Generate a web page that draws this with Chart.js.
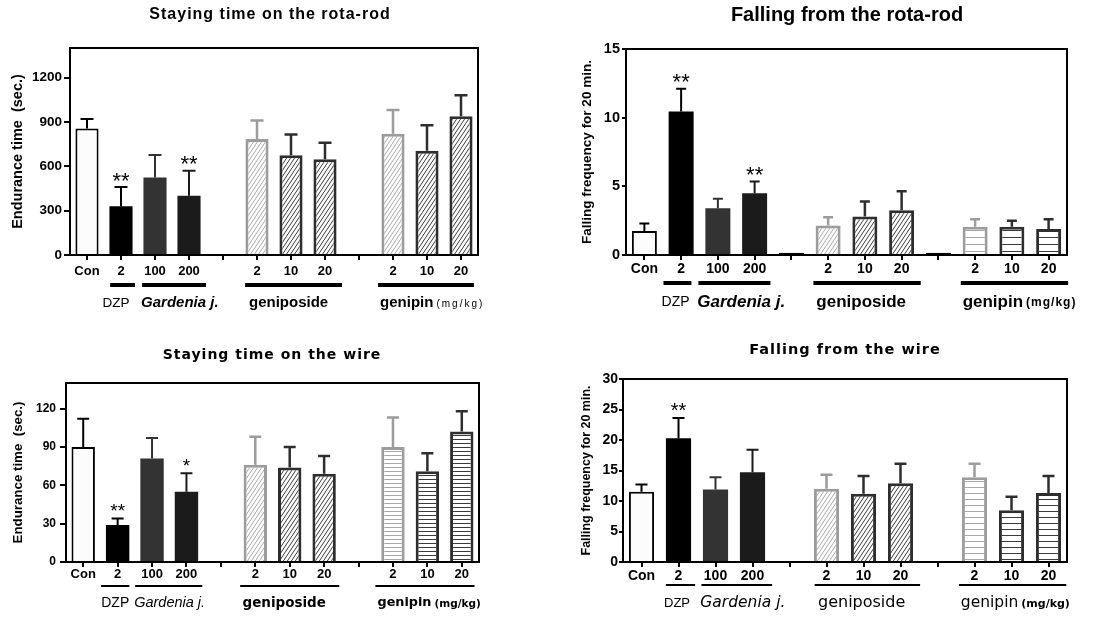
<!DOCTYPE html>
<html>
<head>
<meta charset="utf-8">
<script src="https://cdn.jsdelivr.net/npm/chart.js@4.4.1/dist/chart.umd.min.js"></script>
<style>
  body { margin: 0; background: #fff; width: 1116px; height: 617px; position: relative; overflow: hidden; }
  canvas { position: absolute; }
</style>
</head>
<body>
<canvas id="wireTimeChart" width="558" height="309" style="left:0;top:308px"></canvas>
<canvas id="wireFallChart" width="558" height="309" style="left:558px;top:308px"></canvas>
<canvas id="rotaTimeChart" width="558" height="318" style="left:0;top:0"></canvas>
<canvas id="rotaFallChart" width="558" height="318" style="left:558px;top:0"></canvas>
<script>
// x categories (empty ones are the gaps between groups)
const doseLabels = ['Con', '2', '100', '200', '', '2', '10', '20', '', '2', '10', '20'];

// staying time on the rota-rod (sec.)
const rotaTime    = [855, 330, 525, 400, null, 785, 675, 648, null, 820, 705, 938];
const rotaTimeSem = [65, 130, 152, 170, null, 125, 140, 112, null, 160, 172, 143];
const rotaTimeSig = ['', '**', '', '**', '', '', '', '', '', '', '', ''];
const rotaTimeAxis = [1400, 300]; // max, step

// falling from the rota-rod (per 20 min)
const rotaFall    = [1.75, 10.45, 3.4, 4.5, 0.15, 2.15, 2.8, 3.25, 0.15, 2.05, 2.05, 1.9];
const rotaFallSem = [0.55, 1.65, 0.7, 0.85, 0, 0.6, 1.1, 1.4, 0, 0.55, 0.45, 0.7];
const rotaFallSig = ['', '**', '', '**', '', '', '', '', '', '', '', ''];
const rotaFallAxis = [15, 5];

// staying time on the wire (sec.)
const wireTime    = [90, 29, 81, 55, null, 76, 74, 69, null, 90, 71, 102];
const wireTimeSem = [22, 5, 16, 14.5, null, 22, 16, 14, null, 23, 14, 16];
const wireTimeSig = ['', '**', '', '*', '', '', '', '', '', '', '', ''];
const wireTimeAxis = [140, 30];

// falling from the wire (per 20 min)
const wireFall    = [11.5, 20.3, 11.9, 14.7, null, 12, 11.2, 12.9, null, 13.9, 8.5, 11.3];
const wireFallSem = [1.2, 3.3, 2.0, 3.7, null, 2.3, 2.9, 3.2, null, 2.2, 2.2, 2.8];
const wireFallSig = ['', '**', '', '', '', '', '', '', '', '', '', ''];
const wireFallAxis = [30, 5];

const LIB = '"Liberation Sans", Arial, sans-serif';
const DJV = '"DejaVu Sans", Verdana, sans-serif';

// hatch fill for the extract groups
function hatch(color, kind, gap) {
  const c = document.createElement('canvas');
  const w = kind === 'diag' ? 4 : gap, h = kind === 'diag' ? 6 : gap;
  c.width = w; c.height = h;
  const g = c.getContext('2d');
  g.fillStyle = '#fff';
  g.fillRect(0, 0, w, h);
  g.strokeStyle = color;
  g.lineWidth = 1;
  g.beginPath();
  if (kind === 'diag') {
    for (let k = -1; k <= 1; k++) {
      g.moveTo(k * w, h);
      g.lineTo(k * w + w, 0);
    }
  } else {
    g.moveTo(0, h - 0.5); g.lineTo(w, h - 0.5);
  }
  g.stroke();
  return g.createPattern(c, 'repeat');
}

function panel(id, p) {
  const el = document.getElementById(id);
  const W = el.width, H = el.height;
  const light = '#9c9c9c', dark = '#2e2e2e';
  const fill = ['#fcfcfc', '#000', '#333', '#1b1b1b', '#000',
    hatch('#a8a8a8', 'diag'), hatch('#3a3a3a', 'diag'), hatch('#3a3a3a', 'diag'), '#000',
    hatch('#a8a8a8', p.genipin, p.gap), hatch('#3a3a3a', p.genipin, p.gap), hatch('#3a3a3a', p.genipin, p.gap)];
  const edge = ['#000', '#000', '#333', '#1b1b1b', '#000', light, dark, dark, '#000', light, dark, dark];
  const edgeW = [2, 0, 0, 0, 0, 3, 3, 3, 0, 3, 3, 3];

  const deco = {
    id: 'deco',
    afterDatasetsDraw(chart) {
      const { ctx, chartArea: a, scales: { x, y } } = chart;
      const bars = chart.getDatasetMeta(0).data;
      ctx.save();
      // error bars (upper only) + significance stars
      p.values.forEach((v, i) => {
        const e = p.sem[i];
        if (v == null || !e) return;
        const bx = bars[i].x, y0 = y.getPixelForValue(v), y1 = y.getPixelForValue(v + e);
        ctx.strokeStyle = edge[i];
        ctx.lineWidth = edgeW[i] === 3 ? 2.5 : 2;
        ctx.beginPath();
        ctx.moveTo(bx, y0); ctx.lineTo(bx, y1);
        ctx.moveTo(bx - p.cap, y1); ctx.lineTo(bx + p.cap, y1);
        ctx.stroke();
        if (p.sig[i]) {
          ctx.fillStyle = '#000';
          ctx.font = p.starSize + 'px ' + LIB;
          ctx.textAlign = 'center';
          ctx.textBaseline = 'alphabetic';
          ctx.fillText(p.sig[i], bx, y1 - 12 + 0.57 * p.starSize);
        }
      });

      // box
      ctx.strokeStyle = '#000';
      ctx.lineWidth = 2;
      ctx.strokeRect(a.left, a.top, a.right - a.left, a.bottom - a.top);

      // title
      ctx.fillStyle = '#000';
      ctx.textAlign = 'center';
      ctx.textBaseline = 'middle';
      ctx.font = p.titleFont;
      ctx.letterSpacing = p.titleLs;
      ctx.fillText(p.title, p.titleX, p.titleY);
      ctx.letterSpacing = '0px';

      // y title
      ctx.save();
      ctx.translate(p.yTitleX, (a.top + a.bottom) / 2);
      ctx.rotate(-Math.PI / 2);
      ctx.font = p.yTitleFont;
      ctx.fillText(p.yTitle, 0, 0, p.yTitleLen);
      ctx.restore();

      // group bars + names under the axis
      const x0 = x.getPixelForValue(0), step = x.getPixelForValue(1) - x0;
      const at = t => x0 + t * step;
      ctx.lineWidth = p.groupLine;
      p.spans.forEach(([s, e]) => {
        ctx.beginPath();
        ctx.moveTo(at(s), p.groupY);
        ctx.lineTo(at(e), p.groupY);
        ctx.stroke();
      });
      p.names.forEach(n => {
        ctx.font = n.font;
        ctx.textAlign = n.align;
        ctx.fillText(n.text, at(n.pos), p.labelY);
        if (n.unit) {
          const w = ctx.measureText(n.text).width;
          ctx.font = n.unitFont;
          ctx.letterSpacing = n.unitLs;
          ctx.textAlign = 'left';
          ctx.fillText(n.unit, at(n.pos) + w + 3, p.labelY + 1);
          ctx.letterSpacing = '0px';
        }
      });
      ctx.restore();
    }
  };

  new Chart(el, {
    type: 'bar',
    data: {
      labels: doseLabels,
      datasets: [{
        data: p.values,
        backgroundColor: fill,
        borderColor: edge,
        borderWidth: edgeW,
        barPercentage: 0.68,
        categoryPercentage: 1
      }]
    },
    options: {
      responsive: false,
      animation: false,
      devicePixelRatio: 1,
      layout: { padding: { left: 0, right: W - p.area[1], top: p.area[2], bottom: 0 } },
      plugins: { legend: { display: false }, tooltip: { enabled: false }, title: { display: false } },
      scales: {
        x: {
          grid: { offset: false, drawOnChartArea: false, color: '#000', lineWidth: 2, tickLength: 5 },
          border: { color: '#000', width: 2 },
          ticks: { color: '#000', font: { family: p.xFamily, size: p.xSize, weight: 'bold' }, padding: p.xPad, maxRotation: 0, autoSkip: false },
          afterFit: s => { s.height = H - p.area[3]; }
        },
        y: {
          min: 0,
          max: p.axis[0],
          grid: { drawOnChartArea: false, color: '#000', lineWidth: 2, tickLength: p.yTick },
          border: { color: '#000', width: 2 },
          ticks: {
            stepSize: p.axis[1], includeBounds: false, color: '#000',
            font: { family: LIB, size: p.ySize, weight: 'bold' }, padding: p.yPad,
            callback: v => String(v)
          },
          afterFit: s => { s.width = p.area[0]; }
        }
      }
    },
    plugins: [deco]
  });
}

panel('rotaTimeChart', {
  values: rotaTime, sem: rotaTimeSem, sig: rotaTimeSig, axis: rotaTimeAxis,
  area: [70, 478, 48, 255], genipin: 'diag', gap: 4, cap: 6.5, starSize: 22,
  title: 'Staying time on the rota-rod', titleFont: 'bold 16px ' + LIB, titleLs: '1px', titleX: 270, titleY: 15,
  yTitle: 'Endurance time  (sec.)', yTitleFont: 'bold 14.5px ' + LIB, yTitleX: 18, yTitleLen: 165,
  xFamily: LIB, xSize: 13, xPad: 4, ySize: 13.5, yTick: 6, yPad: 2,
  groupY: 285, groupLine: 4, labelY: 303,
  spans: [[0.68, 1.41], [1.62, 3.5], [4.65, 7.5], [8.56, 11.38]],
  names: [
    { text: 'DZP', pos: 0.85, align: 'center', font: '13.5px ' + LIB },
    { text: 'Gardenia j.', pos: 1.59, align: 'left', font: 'italic bold 15px ' + LIB },
    { text: 'geniposide', pos: 5.93, align: 'center', font: 'bold 15px ' + LIB },
    { text: 'genipin', pos: 8.62, align: 'left', font: 'bold 15px ' + LIB, unit: '(mg/kg)', unitFont: '10px ' + LIB, unitLs: '2px' }
  ]
});

panel('rotaFallChart', {
  values: rotaFall, sem: rotaFallSem, sig: rotaFallSig, axis: rotaFallAxis,
  area: [68, 509, 49, 255], genipin: 'horiz', gap: 7, cap: 5, starSize: 22,
  title: 'Falling from the rota-rod', titleFont: 'bold 20px ' + LIB, titleLs: '0px', titleX: 289, titleY: 15,
  yTitle: 'Falling frequency for 20 min.', yTitleFont: 'bold 13.5px ' + LIB, yTitleX: 29, yTitleLen: 192,
  xFamily: LIB, xSize: 14, xPad: 1, ySize: 14.5, yTick: 4, yPad: 2,
  groupY: 283, groupLine: 4, labelY: 302,
  spans: [[0.52, 1.28], [1.47, 3.43], [4.6, 7.52], [8.61, 11.53]],
  names: [
    { text: 'DZP', pos: 0.85, align: 'center', font: '14px ' + LIB },
    { text: 'Gardenia j.', pos: 1.44, align: 'left', font: 'italic bold 17px ' + LIB },
    { text: 'geniposide', pos: 5.9, align: 'center', font: 'bold 17px ' + LIB },
    { text: 'genipin', pos: 8.66, align: 'left', font: 'bold 17px ' + LIB, unit: '(mg/kg)', unitFont: 'bold 12px ' + LIB, unitLs: '1px' }
  ]
});

panel('wireTimeChart', {
  values: wireTime, sem: wireTimeSem, sig: wireTimeSig, axis: wireTimeAxis,
  area: [66, 479, 75, 254], genipin: 'horiz', gap: 4, cap: 6, starSize: 19,
  title: 'Staying time on the wire', titleFont: 'bold 14px ' + DJV, titleLs: '1px', titleX: 272, titleY: 47,
  yTitle: 'Endurance time  (sec.)', yTitleFont: 'bold 13.5px ' + LIB, yTitleX: 18, yTitleLen: 142,
  xFamily: LIB, xSize: 13, xPad: 0, ySize: 12, yTick: 6, yPad: 4,
  groupY: 278, groupLine: 2, labelY: 295,
  spans: [[0.52, 1.34], [1.51, 3.46], [4.56, 7.44], [8.49, 11.37]],
  names: [
    { text: 'DZP', pos: 0.93, align: 'center', font: '14px ' + LIB },
    { text: 'Gardenia j.', pos: 1.48, align: 'left', font: 'italic 14.5px ' + LIB },
    { text: 'geniposide', pos: 5.84, align: 'center', font: 'bold 13.5px ' + DJV },
    { text: 'genipin', pos: 8.55, align: 'left', font: 'bold 12.8px ' + DJV, unit: '(mg/kg)', unitFont: 'bold 10.5px ' + DJV, unitLs: '0px' }
  ]
});

panel('wireFallChart', {
  values: wireFall, sem: wireFallSem, sig: wireFallSig, axis: wireFallAxis,
  area: [65, 509, 71, 254], genipin: 'horiz', gap: 6, cap: 6, starSize: 20,
  title: 'Falling from the wire', titleFont: 'bold 14.5px ' + DJV, titleLs: '1px', titleX: 287, titleY: 42,
  yTitle: 'Falling frequency for 20 min.', yTitleFont: 'bold 12.5px ' + LIB, yTitleX: 29, yTitleLen: 170,
  xFamily: LIB, xSize: 14, xPad: 1, ySize: 14, yTick: 4, yPad: 1,
  groupY: 277, groupLine: 2, labelY: 295,
  spans: [[0.66, 1.45], [1.62, 3.53], [4.68, 7.53], [8.58, 11.48]],
  names: [
    { text: 'DZP', pos: 0.96, align: 'center', font: '13px ' + LIB },
    { text: 'Gardenia j.', pos: 1.59, align: 'left', font: 'oblique 15.5px ' + DJV },
    { text: 'geniposide', pos: 5.95, align: 'center', font: '16px ' + DJV },
    { text: 'genipin', pos: 8.63, align: 'left', font: '15.5px ' + DJV, unit: '(mg/kg)', unitFont: 'bold 11px ' + DJV, unitLs: '0px' }
  ]
});
</script>
</body>
</html>
